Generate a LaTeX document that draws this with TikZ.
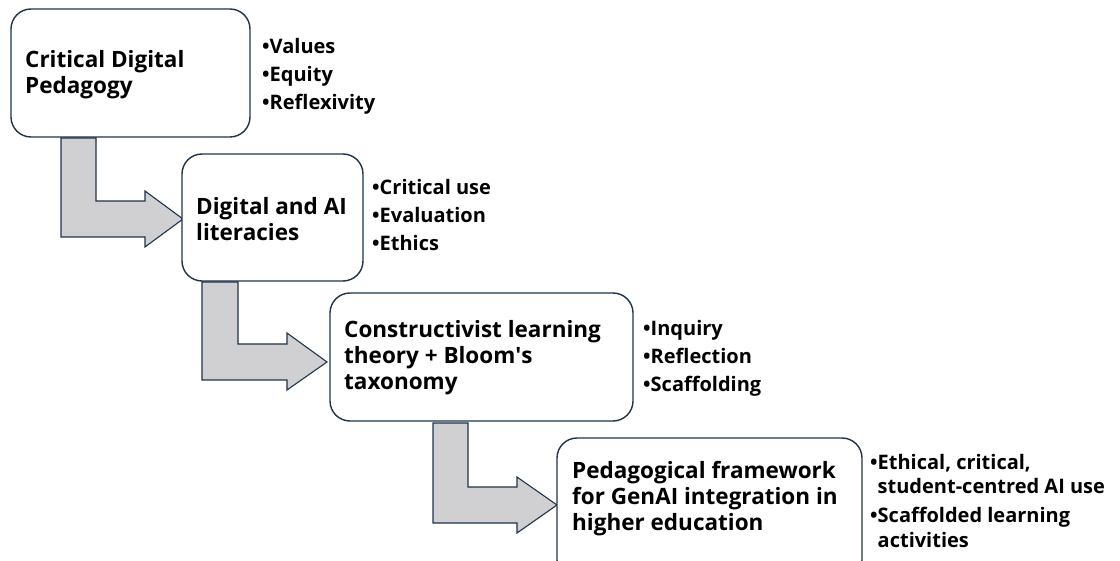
\documentclass[tikz,border=0pt]{standalone}
\usepackage{fontspec}
\setmainfont{Open Sans}
\definecolor{navy}{HTML}{1F3349}
\definecolor{arrowgray}{HTML}{D0D0D3}
\begin{document}
\begin{tikzpicture}[x=1pt,y=-1pt,
  box/.style={draw=navy,line width=1.4pt,rounded corners=20pt,fill=white},
  bentarrow/.style={draw=navy,line width=1.1pt,fill=arrowgray,line join=miter},
  boxtext/.style={anchor=west,align=left,inner sep=0pt,font=\fontsize{22.5}{26}\selectfont\bfseries},
  bullets/.style={anchor=west,align=left,inner sep=0pt,font=\fontsize{20}{28}\selectfont\bfseries}
]
\useasboundingbox (0,0) rectangle (1120,561);
\clip (0,0) rectangle (1120,561);
% arrows
\draw[bentarrow] (61,138) -- (96,138) -- (96,201) -- (145,201) -- (145,191) -- (183,219) -- (145,247) -- (145,237) -- (61,237) -- cycle;
\draw[bentarrow] (202,282) -- (238,282) -- (238,344) -- (287,344) -- (287,333) -- (327,362) -- (287,390) -- (287,380) -- (202,380) -- cycle;
\draw[bentarrow] (433,423) -- (468,423) -- (468,487) -- (517,487) -- (517,477) -- (557,505) -- (517,533) -- (517,523) -- (433,523) -- cycle;
% boxes
\draw[box] (11,9) rectangle (250,137);
\draw[box] (182,154) rectangle (363,281);
\draw[box] (330,293) rectangle (633,421);
\draw[box] (557,438) rectangle (862,580);
% box texts
\node[boxtext] (t1) at (25,75) {Critical Digital\\Pedagogy};
\node[boxtext] (t2) at (196,219) {Digital and AI\\literacies};
\node[boxtext] (t3) at (344,358) {Constructivist learning\\theory + Bloom\textquotesingle s\\taxonomy};
\node[boxtext] (t4) at (572,499) {Pedagogical framework\\for GenAI integration in\\higher education};
% bullets
\node[bullets] (b1) at (262,76) {•Values\\•Equity\\•Reflexivity};
\node[bullets] (b2) at (372,215) {•Critical use\\•Evaluation\\•Ethics};
\node[bullets] (b3) at (643,358) {•Inquiry\\•Reflection\\•Scaffolding};
\node[bullets,anchor=north west,font=\fontsize{20}{24.5}\selectfont\bfseries] (b4) at (870,454) {•Ethical, critical,\\\phantom{•}student-centred AI use\\[4.5pt]•Scaffolded learning\\\phantom{•}activities};
\end{tikzpicture}
\end{document}
